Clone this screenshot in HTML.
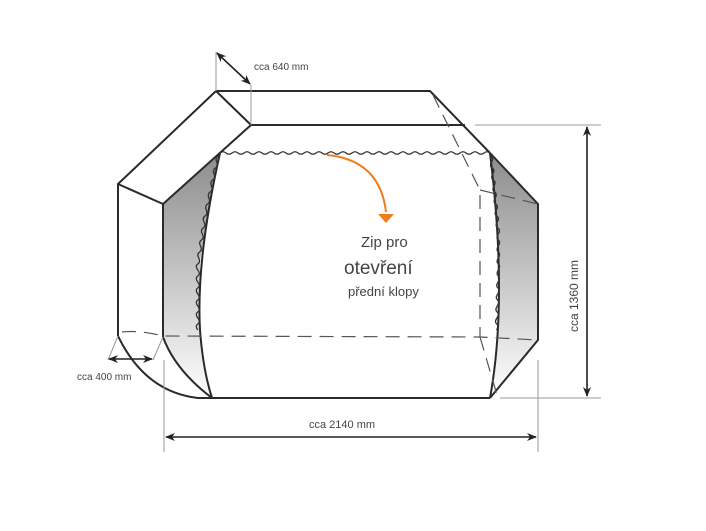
<!DOCTYPE html>
<html><head><meta charset="utf-8"><style>
html,body{margin:0;padding:0;background:#fff;}
svg{display:block;}
text{font-family:"Liberation Sans",sans-serif;fill:#444;}
</style></head><body>
<svg width="706" height="531" viewBox="0 0 706 531" xmlns="http://www.w3.org/2000/svg">
<defs>
<linearGradient id="g" x1="0" y1="0" x2="0" y2="1">
<stop offset="0" stop-color="#8c8c8c"/><stop offset="1" stop-color="#ffffff"/>
</linearGradient>
<marker id="a" markerWidth="10" markerHeight="10" refX="9" refY="5" orient="auto-start-reverse" markerUnits="userSpaceOnUse">
<path d="M0,1 L10,5 L0,9 L3,5 Z" fill="#222"/>
</marker>
</defs>
<!-- gray panels -->
<path d="M163,204 L220,153 Q205,230 200,262 L200,330 Q203,370 212,398 Q175,370 163,337 Z" fill="url(#g)"/>
<path d="M490,153 L538,204 L538,340 L490,398 Q508,300 490,153 Z" fill="url(#g)"/>
<g fill="none" stroke="#2a2a2a" stroke-width="2" stroke-linejoin="round">
<!-- top -->
<path d="M216,91 L430,91 L490,153"/>
<path d="M251,125 L465,125"/>
<path d="M216,91 L251,125 L163,204"/>
<path d="M216,91 L118,184 L163,204"/>
<path d="M118,184 L118,336"/>
<path d="M163,204 L163,337"/>
<path d="M118,336 Q145,392 198,398 L490,398"/>
<path d="M163,337 Q175,370 212,398"/>
<path d="M220,153 Q196,260 200,330 Q203,370 212,398"/>
<path d="M490,153 Q508,300 490,398"/>
<path d="M490,153 L538,204 L538,340 L490,398"/>
</g>
<!-- zips -->
<g fill="none" stroke="#333" stroke-width="1.3">
<path d="M220,153 q3,-2.5 6,0 t6,0 t6,0 t6,0 t6,0 t6,0 t6,0 t6,0 t6,0 t6,0 t6,0 t6,0 t6,0 t6,0 t6,0 t6,0 t6,0 t6,0 t6,0 t6,0 t6,0 t6,0 t6,0 t6,0 t6,0 t6,0 t6,0 t6,0 t6,0 t6,0 t6,0 t6,0 t6,0 t6,0 t6,0 t6,0 t6,0 t6,0 t6,0 t6,0 t6,0 t6,0 t6,0 t6,0 t6,0"/>
<path d="M218,156 q-3,2 -1.3,6 t-1.3,6 t-1.3,6 t-1.3,6 t-1.3,6 t-1.3,6 t-1.3,6 t-1.3,6 t-1.3,6 t-1.3,6 t-0.9,6 t-0.9,6 t-0.9,6 t-0.9,6 t-0.9,6 t-0.9,6 t-0.9,6 t-0.9,6 t0,6 t0,6 t0,6 t0,6 t0,6 t0,6 t0,6 t0,6 t0,6 t0,6 t0,6"/>
<path d="M491,156 q3,2 0.6,6 t0.6,6 t0.6,6 t0.6,6 t0.6,6 t0.6,6 t0.6,6 t0.6,6 t0.5,6 t0.5,6 t0.5,6 t0.5,6 t0.5,6 t0,6 t0,6 t0,6 t0,6 t0,6 t0,6 t0,6 t-0.2,6 t-0.2,6 t-0.2,6 t-0.2,6 t-0.2,6 t-0.2,6 t-0.2,6 t-0.2,6 t-0.2,6"/>
</g>
<!-- dashed hidden lines -->
<g fill="none" stroke="#555" stroke-width="1.2" stroke-dasharray="14,8">
<path d="M122,332 Q140,330 163,336 L480,337 L538,340"/>
<path d="M480,195 L480,337"/>
<path d="M433,95 L480,190"/>
<path d="M480,190 L538,204"/>
<path d="M480,337 L497,395"/>
</g>
<!-- orange arrow -->
<path d="M327,155 Q380,160 386,212" fill="none" stroke="#f07d1a" stroke-width="2"/>
<path d="M378,214 L394,214 L386,223 Z" fill="#f07d1a"/>
<!-- text -->
<text x="361" y="247" font-size="15">Zip pro</text>
<text x="344" y="274" font-size="19" fill="#333">otevření</text>
<text x="348" y="296" font-size="13">přední klopy</text>
<!-- dimension lines -->
<g stroke="#999" stroke-width="1" fill="none">
<path d="M216,52 L216,91 M251,85 L251,125"/>
<path d="M475,125 L601,125 M500,398 L601,398"/>
<path d="M164,360 L164,452 M538,360 L538,452"/>
<path d="M118,336 L108,360 M163,337 L153,360"/>
</g>
<g stroke="#222" stroke-width="1.6" fill="none">
<path d="M217,53 L250,84" marker-start="url(#a)" marker-end="url(#a)"/>
<path d="M587,127 L587,396" marker-start="url(#a)" marker-end="url(#a)"/>
<path d="M166,437 L536,437" marker-start="url(#a)" marker-end="url(#a)"/>
<path d="M109,359 L152,359" marker-start="url(#a)" marker-end="url(#a)"/>
</g>
<text x="254" y="70" font-size="10" fill="#555">cca 640 mm</text>
<text x="77" y="380" font-size="10" fill="#555">cca 400 mm</text>
<text x="309" y="428" font-size="11" fill="#555">cca 2140 mm</text>
<text x="0" y="0" font-size="12" fill="#555" transform="translate(578,296) rotate(-90)" text-anchor="middle">cca 1360 mm</text>
</svg>
</body></html>
